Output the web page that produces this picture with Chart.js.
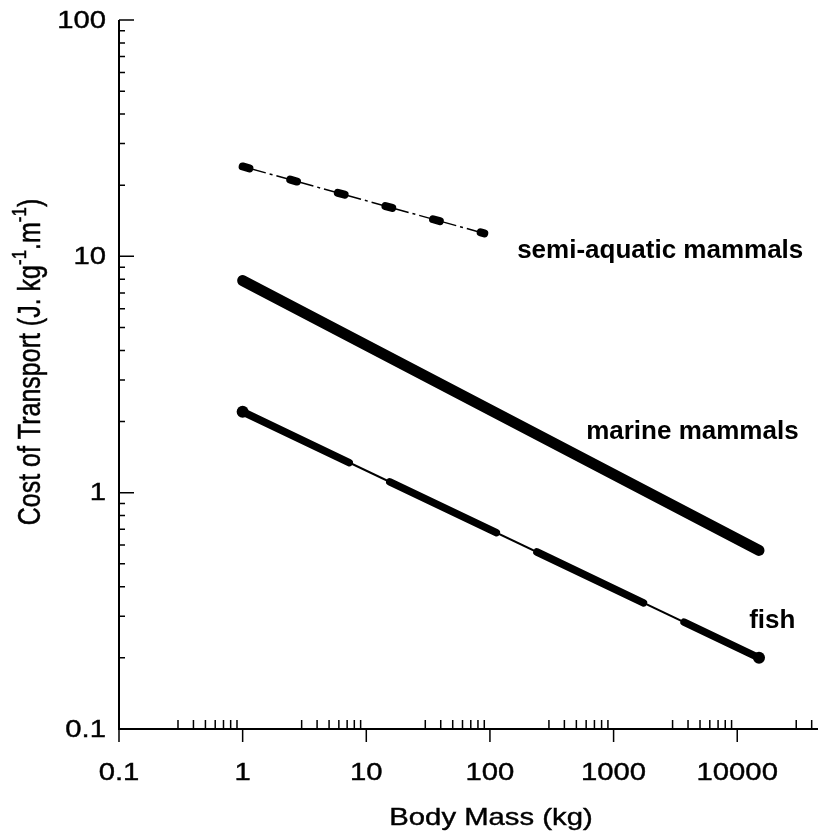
<!DOCTYPE html>
<html>
<head>
<meta charset="utf-8">
<script src="https://cdn.jsdelivr.net/npm/chart.js@4/dist/chart.umd.min.js"></script>
<style>
  html, body { margin: 0; padding: 0; background: #fff; }
  #wrap { width: 824px; height: 837px; }
</style>
</head>
<body>
<div id="wrap"><canvas id="cot" width="824" height="837"></canvas></div>
<script>
// regression lines: body mass (kg) at each end and cost of transport there
const semiMass = [1, 90];
const semiCost = [24, 12.5];
const marineMass = [1, 15000];
const marineCost = [7.9, 0.57];
const fishMass = [1, 15000];
const fishCost = [2.2, 0.2];

// axes
const xTicks = [0.1, 1, 10, 100, 1000, 10000];
const xTickLabels = ["0.1", "1", "10", "100", "1000", "10000"];
const yTicks = [0.1, 1, 10, 100];
const yTickLabels = ["0.1", "1", "10", "100"];
const xMinorSteps = [3, 4, 5, 6, 7, 8, 9];
const yMinorSteps = [2, 3, 4, 5, 6, 7, 8, 9];

// names written next to each line, anchored in data units
const lineNames = ["semi-aquatic mammals", "marine mammals", "fish"];
const nameMass = [166, 600, 12500];
const nameCost = [9.8, 1.69, 0.267];

const pts = (xs, ys) => xs.map((x, i) => ({ x: x, y: ys[i] }));

const TEXT_STRETCH = 1.22;
const FONT = '"Liberation Sans", Arial, sans-serif';

// regular text is a little heavier than the plain face, so stroke it too
function wideText(ctx, str, x, y, align) {
    ctx.save();
    ctx.translate(x, y);
    ctx.scale(TEXT_STRETCH, 1);
    ctx.textAlign = align;
    ctx.lineWidth = 0.4;
    ctx.fillText(str, 0, 0);
    ctx.strokeText(str, 0, 0);
    ctx.restore();
}

// axes are drawn by hand: minor ticks point inward, major x ticks outward
const framePlugin = {
    id: "frame",
    afterDraw(chart) {
        const ctx = chart.ctx;
        const xs = chart.scales.x;
        const ys = chart.scales.y;
        const a = chart.chartArea;
        ctx.save();
        ctx.strokeStyle = "#000";
        ctx.fillStyle = "#000";

        ctx.lineWidth = 2;
        ctx.beginPath();
        ctx.moveTo(a.left, a.top);
        ctx.lineTo(a.left, a.bottom);
        ctx.lineTo(a.right, a.bottom);
        ctx.stroke();

        ctx.lineWidth = 1.5;
        ctx.beginPath();
        xTicks.forEach((v) => {
            const px = xs.getPixelForValue(v);
            ctx.moveTo(px, a.bottom);
            ctx.lineTo(px, a.bottom + 13);
            xMinorSteps.forEach((m) => {
                const mv = v * m;
                if (mv > xs.max) return;
                const mx = xs.getPixelForValue(mv);
                ctx.moveTo(mx, a.bottom);
                ctx.lineTo(mx, a.bottom - 9);
            });
        });
        yTicks.forEach((v) => {
            const py = ys.getPixelForValue(v);
            ctx.moveTo(a.left, py);
            ctx.lineTo(a.left + 15, py);
            if (v >= ys.max) return;
            yMinorSteps.forEach((m) => {
                const my = ys.getPixelForValue(v * m);
                ctx.moveTo(a.left, my);
                ctx.lineTo(a.left + 6, my);
            });
        });
        ctx.stroke();

        // tick labels
        ctx.font = "24px " + FONT;
        ctx.textBaseline = "middle";
        xTicks.forEach((v, i) => {
            wideText(ctx, xTickLabels[i], xs.getPixelForValue(v), a.bottom + 44, "center");
        });
        yTicks.forEach((v, i) => {
            wideText(ctx, yTickLabels[i], a.left - 13, ys.getPixelForValue(v) + 1, "right");
        });

        // axis titles
        wideText(ctx, "Body Mass (kg)", 491, a.bottom + 89, "center");

        ctx.save();
        ctx.translate(32, 362);
        ctx.rotate(-Math.PI / 2);
        ctx.scale(1, TEXT_STRETCH);
        ctx.lineWidth = 0.4;
        const parts = [
            ["Cost of Transport (J. kg", 25, 0],
            ["-1", 17, -10],
            [".m", 25, 0],
            ["-1", 17, -10],
            [")", 25, 0]
        ];
        let total = 0;
        parts.forEach((p) => {
            ctx.font = p[1] + "px " + FONT;
            total += ctx.measureText(p[0]).width;
        });
        let cx = -total / 2;
        ctx.textAlign = "left";
        parts.forEach((p) => {
            ctx.font = p[1] + "px " + FONT;
            ctx.fillText(p[0], cx, p[2]);
            ctx.strokeText(p[0], cx, p[2]);
            cx += ctx.measureText(p[0]).width;
        });
        ctx.restore();

        // line names
        ctx.font = "bold 26px " + FONT;
        ctx.textBaseline = "alphabetic";
        ctx.textAlign = "left";
        lineNames.forEach((name, i) => {
            ctx.fillText(name, xs.getPixelForValue(nameMass[i]), ys.getPixelForValue(nameCost[i]));
        });
        ctx.restore();
    }
};

new Chart(document.getElementById("cot"), {
    type: "line",
    data: {
        datasets: [
            {
                label: "marine mammals",
                data: pts(marineMass, marineCost),
                borderColor: "#000",
                borderWidth: 11,
                borderCapStyle: "round",
                pointRadius: 0
            },
            {
                label: "fish",
                data: pts(fishMass, fishCost),
                borderColor: "#000",
                borderWidth: 2,
                pointRadius: 0
            },
            {
                label: "fish (dashes)",
                data: pts(fishMass, fishCost),
                borderColor: "#000",
                borderWidth: 7.5,
                borderCapStyle: "round",
                borderDash: [118, 45],
                pointRadius: 6,
                pointBorderWidth: 0,
                pointBackgroundColor: "#000"
            },
            {
                label: "semi-aquatic mammals",
                data: pts(semiMass, semiCost),
                borderColor: "#000",
                borderWidth: 1.5,
                borderDash: [38.4, 4, 3, 4],
                borderDashOffset: 14.4,
                pointRadius: 0
            },
            {
                label: "semi-aquatic mammals (beads)",
                data: pts(semiMass, semiCost),
                borderColor: "#000",
                borderWidth: 8,
                borderCapStyle: "round",
                borderDash: [7, 42.4],
                pointRadius: 0
            }
        ]
    },
    options: {
        responsive: false,
        animation: false,
        layout: { padding: { left: 119, top: 20, right: 2, bottom: 108 } },
        plugins: { legend: { display: false }, tooltip: { enabled: false } },
        scales: {
            x: { type: "logarithmic", min: 0.1, max: 45000, display: false },
            y: { type: "logarithmic", min: 0.1, max: 100, display: false }
        }
    },
    plugins: [framePlugin]
});
</script>
</body>
</html>
